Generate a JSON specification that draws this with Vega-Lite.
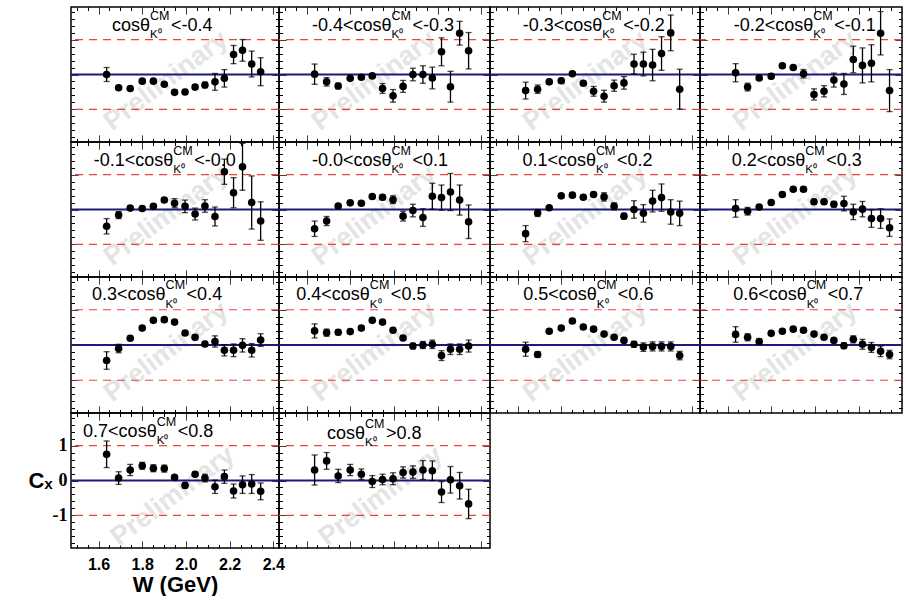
{
"$schema": "https://vega.github.io/schema/vega-lite/v6.json",
"background": "white",
"padding": {"left": 27, "top": 5, "right": 0, "bottom": 0},
"columns": 4,
"spacing": 0,
"bounds": "flush",
"align": "each",
"config": {
 "view": {"stroke": "#000", "strokeWidth": 1.5},
 "font": "Liberation Sans",
 "text": {"font": "Liberation Sans", "baseline": "alphabetic", "color": "#000"},
 "axis": {"domain": false, "grid": false, "labels": false, "ticks": true, "tickColor": "#000", "tickWidth": 1, "tickSize": 7, "offset": -7, "tickCount": 20, "labelOverlap": false, "labelFlush": false, "labelFont": "Liberation Sans", "labelFontWeight": "bold", "labelColor": "#000", "titleFont": "Liberation Sans", "titleFontWeight": "bold", "titleColor": "#000"}
},
"datasets": {
 "p1": [{"W":1.637,"C":0.00,"e":0.20},{"W":1.692,"C":-0.38,"e":0.05},{"W":1.745,"C":-0.40,"e":0.05},{"W":1.800,"C":-0.19,"e":0.05},{"W":1.851,"C":-0.19,"e":0.05},{"W":1.901,"C":-0.28,"e":0.05},{"W":1.948,"C":-0.51,"e":0.06},{"W":1.996,"C":-0.50,"e":0.07},{"W":2.042,"C":-0.36,"e":0.07},{"W":2.087,"C":-0.30,"e":0.08},{"W":2.133,"C":-0.21,"e":0.24},{"W":2.176,"C":-0.11,"e":0.25},{"W":2.218,"C":0.57,"e":0.26},{"W":2.259,"C":0.69,"e":0.31},{"W":2.301,"C":0.30,"e":0.37},{"W":2.342,"C":0.08,"e":0.40}],
 "p2": [{"W":1.637,"C":0.01,"e":0.29},{"W":1.692,"C":-0.21,"e":0.12},{"W":1.745,"C":-0.33,"e":0.08},{"W":1.800,"C":-0.11,"e":0.05},{"W":1.851,"C":-0.08,"e":0.05},{"W":1.901,"C":-0.04,"e":0.05},{"W":1.948,"C":-0.40,"e":0.14},{"W":1.996,"C":-0.61,"e":0.18},{"W":2.042,"C":-0.34,"e":0.17},{"W":2.087,"C":0.00,"e":0.18},{"W":2.133,"C":0.00,"e":0.25},{"W":2.176,"C":-0.10,"e":0.31},{"W":2.218,"C":0.65,"e":0.40},{"W":2.259,"C":-0.35,"e":0.44},{"W":2.301,"C":1.18,"e":0.34},{"W":2.342,"C":0.68,"e":0.52}],
 "p3": [{"W":1.637,"C":-0.46,"e":0.24},{"W":1.692,"C":-0.42,"e":0.12},{"W":1.745,"C":-0.21,"e":0.07},{"W":1.800,"C":-0.18,"e":0.07},{"W":1.851,"C":0.02,"e":0.05},{"W":1.901,"C":-0.25,"e":0.06},{"W":1.948,"C":-0.48,"e":0.14},{"W":1.996,"C":-0.62,"e":0.17},{"W":2.042,"C":-0.32,"e":0.16},{"W":2.087,"C":-0.24,"e":0.18},{"W":2.133,"C":0.30,"e":0.28},{"W":2.176,"C":0.30,"e":0.34},{"W":2.218,"C":0.27,"e":0.45},{"W":2.259,"C":0.60,"e":0.48},{"W":2.301,"C":1.19,"e":0.51},{"W":2.342,"C":-0.42,"e":0.57}],
 "p4": [{"W":1.637,"C":0.05,"e":0.26},{"W":1.692,"C":-0.36,"e":0.11},{"W":1.745,"C":-0.10,"e":0.07},{"W":1.800,"C":-0.05,"e":0.07},{"W":1.851,"C":0.25,"e":0.06},{"W":1.901,"C":0.20,"e":0.06},{"W":1.948,"C":0.02,"e":0.12},{"W":1.996,"C":-0.57,"e":0.16},{"W":2.042,"C":-0.48,"e":0.16},{"W":2.087,"C":-0.16,"e":0.20},{"W":2.133,"C":-0.27,"e":0.30},{"W":2.176,"C":0.43,"e":0.38},{"W":2.218,"C":0.26,"e":0.50},{"W":2.259,"C":0.32,"e":0.53},{"W":2.301,"C":1.18,"e":0.62},{"W":2.342,"C":-0.46,"e":0.60}],
 "p5": [{"W":1.637,"C":-0.48,"e":0.22},{"W":1.692,"C":-0.16,"e":0.10},{"W":1.745,"C":0.04,"e":0.06},{"W":1.800,"C":0.03,"e":0.06},{"W":1.851,"C":0.09,"e":0.06},{"W":1.901,"C":0.27,"e":0.06},{"W":1.948,"C":0.18,"e":0.13},{"W":1.996,"C":0.09,"e":0.18},{"W":2.042,"C":-0.13,"e":0.17},{"W":2.087,"C":0.10,"e":0.18},{"W":2.133,"C":-0.20,"e":0.27},{"W":2.176,"C":1.08,"e":0.36},{"W":2.218,"C":0.48,"e":0.43},{"W":2.259,"C":1.22,"e":0.67},{"W":2.301,"C":0.20,"e":0.76},{"W":2.342,"C":-0.33,"e":0.55}],
 "p6": [{"W":1.637,"C":-0.55,"e":0.22},{"W":1.692,"C":-0.33,"e":0.13},{"W":1.745,"C":0.10,"e":0.06},{"W":1.800,"C":0.19,"e":0.06},{"W":1.851,"C":0.18,"e":0.06},{"W":1.901,"C":0.37,"e":0.06},{"W":1.948,"C":0.35,"e":0.07},{"W":1.996,"C":0.28,"e":0.11},{"W":2.042,"C":-0.19,"e":0.14},{"W":2.087,"C":-0.03,"e":0.18},{"W":2.133,"C":-0.23,"e":0.25},{"W":2.176,"C":0.38,"e":0.37},{"W":2.218,"C":0.34,"e":0.36},{"W":2.259,"C":0.50,"e":0.53},{"W":2.301,"C":0.27,"e":0.43},{"W":2.342,"C":-0.35,"e":0.48}],
 "p7": [{"W":1.637,"C":-0.69,"e":0.23},{"W":1.692,"C":-0.10,"e":0.10},{"W":1.745,"C":0.05,"e":0.06},{"W":1.800,"C":0.39,"e":0.06},{"W":1.851,"C":0.41,"e":0.06},{"W":1.901,"C":0.35,"e":0.06},{"W":1.948,"C":0.43,"e":0.06},{"W":1.996,"C":0.36,"e":0.12},{"W":2.042,"C":0.09,"e":0.10},{"W":2.087,"C":-0.19,"e":0.08},{"W":2.133,"C":0.00,"e":0.25},{"W":2.176,"C":-0.11,"e":0.25},{"W":2.218,"C":0.24,"e":0.31},{"W":2.259,"C":0.34,"e":0.39},{"W":2.301,"C":-0.07,"e":0.35},{"W":2.342,"C":-0.11,"e":0.35}],
 "p8": [{"W":1.637,"C":0.03,"e":0.25},{"W":1.692,"C":-0.05,"e":0.11},{"W":1.745,"C":0.07,"e":0.06},{"W":1.800,"C":0.20,"e":0.06},{"W":1.851,"C":0.43,"e":0.06},{"W":1.901,"C":0.58,"e":0.06},{"W":1.948,"C":0.58,"e":0.06},{"W":1.996,"C":0.22,"e":0.07},{"W":2.042,"C":0.22,"e":0.07},{"W":2.087,"C":0.15,"e":0.08},{"W":2.133,"C":0.17,"e":0.21},{"W":2.176,"C":-0.07,"e":0.22},{"W":2.218,"C":0.01,"e":0.22},{"W":2.259,"C":-0.26,"e":0.25},{"W":2.301,"C":-0.26,"e":0.28},{"W":2.342,"C":-0.52,"e":0.25}],
 "p9": [{"W":1.637,"C":-0.44,"e":0.25},{"W":1.692,"C":-0.10,"e":0.12},{"W":1.745,"C":0.19,"e":0.06},{"W":1.800,"C":0.48,"e":0.06},{"W":1.851,"C":0.70,"e":0.06},{"W":1.901,"C":0.72,"e":0.06},{"W":1.948,"C":0.65,"e":0.06},{"W":1.996,"C":0.34,"e":0.06},{"W":2.042,"C":0.22,"e":0.07},{"W":2.087,"C":0.03,"e":0.07},{"W":2.133,"C":0.10,"e":0.16},{"W":2.176,"C":-0.15,"e":0.16},{"W":2.218,"C":-0.15,"e":0.18},{"W":2.259,"C":-0.01,"e":0.19},{"W":2.301,"C":-0.15,"e":0.19},{"W":2.342,"C":0.14,"e":0.18}],
 "p10": [{"W":1.637,"C":0.40,"e":0.20},{"W":1.692,"C":0.35,"e":0.10},{"W":1.745,"C":0.36,"e":0.07},{"W":1.800,"C":0.38,"e":0.06},{"W":1.851,"C":0.48,"e":0.06},{"W":1.901,"C":0.70,"e":0.06},{"W":1.948,"C":0.65,"e":0.06},{"W":1.996,"C":0.42,"e":0.06},{"W":2.042,"C":0.20,"e":0.07},{"W":2.087,"C":-0.03,"e":0.08},{"W":2.133,"C":0.00,"e":0.10},{"W":2.176,"C":0.02,"e":0.12},{"W":2.218,"C":-0.30,"e":0.14},{"W":2.259,"C":-0.12,"e":0.15},{"W":2.301,"C":-0.12,"e":0.15},{"W":2.342,"C":-0.03,"e":0.17}],
 "p11": [{"W":1.637,"C":-0.12,"e":0.20},{"W":1.692,"C":-0.27,"e":0.08},{"W":1.745,"C":0.39,"e":0.06},{"W":1.800,"C":0.48,"e":0.06},{"W":1.851,"C":0.68,"e":0.06},{"W":1.901,"C":0.51,"e":0.06},{"W":1.948,"C":0.45,"e":0.06},{"W":1.996,"C":0.31,"e":0.06},{"W":2.042,"C":0.22,"e":0.06},{"W":2.087,"C":0.13,"e":0.06},{"W":2.133,"C":0.02,"e":0.08},{"W":2.176,"C":-0.06,"e":0.12},{"W":2.218,"C":-0.04,"e":0.13},{"W":2.259,"C":-0.04,"e":0.13},{"W":2.301,"C":-0.04,"e":0.13},{"W":2.342,"C":-0.30,"e":0.12}],
 "p12": [{"W":1.637,"C":0.30,"e":0.22},{"W":1.692,"C":0.22,"e":0.10},{"W":1.745,"C":0.10,"e":0.07},{"W":1.800,"C":0.33,"e":0.06},{"W":1.851,"C":0.39,"e":0.06},{"W":1.901,"C":0.45,"e":0.06},{"W":1.948,"C":0.42,"e":0.06},{"W":1.996,"C":0.31,"e":0.06},{"W":2.042,"C":0.22,"e":0.06},{"W":2.087,"C":0.13,"e":0.06},{"W":2.133,"C":-0.02,"e":0.08},{"W":2.176,"C":0.16,"e":0.10},{"W":2.218,"C":0.02,"e":0.14},{"W":2.259,"C":-0.07,"e":0.14},{"W":2.301,"C":-0.18,"e":0.15},{"W":2.342,"C":-0.27,"e":0.12}],
 "p13": [{"W":1.637,"C":0.75,"e":0.38},{"W":1.692,"C":0.07,"e":0.18},{"W":1.745,"C":0.30,"e":0.16},{"W":1.800,"C":0.42,"e":0.10},{"W":1.851,"C":0.35,"e":0.10},{"W":1.901,"C":0.34,"e":0.10},{"W":1.948,"C":0.09,"e":0.06},{"W":1.996,"C":-0.14,"e":0.07},{"W":2.042,"C":0.18,"e":0.06},{"W":2.087,"C":0.07,"e":0.11},{"W":2.133,"C":-0.18,"e":0.19},{"W":2.176,"C":0.11,"e":0.19},{"W":2.218,"C":-0.30,"e":0.20},{"W":2.259,"C":-0.12,"e":0.25},{"W":2.301,"C":-0.10,"e":0.27},{"W":2.342,"C":-0.31,"e":0.24}],
 "p14": [{"W":1.637,"C":0.30,"e":0.43},{"W":1.692,"C":0.56,"e":0.24},{"W":1.745,"C":0.13,"e":0.19},{"W":1.800,"C":0.30,"e":0.16},{"W":1.851,"C":0.18,"e":0.15},{"W":1.901,"C":-0.03,"e":0.17},{"W":1.948,"C":0.03,"e":0.15},{"W":1.996,"C":0.05,"e":0.17},{"W":2.042,"C":0.23,"e":0.16},{"W":2.087,"C":0.24,"e":0.18},{"W":2.133,"C":0.30,"e":0.27},{"W":2.176,"C":0.28,"e":0.28},{"W":2.218,"C":-0.33,"e":0.30},{"W":2.259,"C":0.02,"e":0.38},{"W":2.301,"C":-0.15,"e":0.38},{"W":2.342,"C":-0.67,"e":0.42}]
},
"concat": [
{"width": 208, "height": 135, "data": {"name": "p1"}, "resolve": {"axis": {"x": "independent", "y": "independent"}}, "layer": [
 {"data": {"values": [{"t": "Preliminary"}]}, "mark": {"type": "text", "angle": -37, "fontSize": 27, "fontWeight": "bold", "color": "#e4e4e4", "align": "center", "baseline": "middle"}, "encoding": {"x": {"datum": 1.91, "axis": null}, "y": {"datum": -0.18, "axis": null}, "text": {"field": "t"}}},
 {"data": {"values": [{"v": 1}, {"v": -1}]}, "mark": {"type": "rule", "color": "#e8463c", "strokeDash": [8, 6], "strokeWidth": 1.2}, "encoding": {"y": {"field": "v", "type": "quantitative", "axis": null}}},
 {"data": {"values": [{"v": 0}]}, "mark": {"type": "rule", "color": "#1b1b78", "strokeWidth": 2}, "encoding": {"y": {"field": "v", "type": "quantitative", "axis": null}}},
 {"data": {"values": [{"pre": "cosθ", "sup": "CM", "sub": "K⁰", "post": "<-0.4"}]}, "encoding": {"x": {"datum": 1.836, "axis": null}, "y": {"datum": 1.25, "axis": null}}, "layer": [
  {"mark": {"type": "text", "align": "right", "fontSize": 18}, "encoding": {"text": {"field": "pre"}}},
  {"mark": {"type": "text", "align": "left", "fontSize": 12.5, "dy": -11}, "encoding": {"text": {"field": "sup"}}},
  {"mark": {"type": "text", "align": "left", "fontSize": 11.5, "dy": 7.5}, "encoding": {"text": {"field": "sub"}}},
  {"mark": {"type": "text", "align": "left", "fontSize": 18, "dx": 21}, "encoding": {"text": {"field": "post"}}}]},
 {"mark": {"type": "errorbar", "ticks": true, "size": 6, "thickness": 1.3, "color": "#000"}, "encoding": {"x": {"field": "W", "type": "quantitative", "axis": null}, "y": {"field": "C", "type": "quantitative", "axis": null}, "yError": {"field": "e"}}},
 {"mark": {"type": "circle", "size": 58, "color": "#000", "opacity": 1}, "encoding": {"x": {"field": "W", "type": "quantitative", "scale": {"domain": [1.474, 2.426], "nice": false, "zero": false}, "axis": {"orient": "bottom", "tickDash": {"condition": {"test": "abs(datum.value*5-round(datum.value*5))>0.01", "value": [0, 3.5, 3.5, 10]}, "value": [1, 0]}}, "title": null}, "y": {"field": "C", "type": "quantitative", "scale": {"domain": [-1.93, 1.93], "nice": false, "zero": false}, "axis": {"orient": "left", "tickDash": {"condition": {"test": "abs(datum.value-round(datum.value))>0.01", "value": [0, 3.5, 3.5, 10]}, "value": [1, 0]}}, "title": null}}},
 {"mark": {"type": "point", "opacity": 0}, "encoding": {"x": {"field": "W", "type": "quantitative", "axis": {"orient": "top", "tickDash": {"condition": {"test": "abs(datum.value*5-round(datum.value*5))>0.01", "value": [0, 3.5, 3.5, 10]}, "value": [1, 0]}}, "title": null}, "y": {"field": "C", "type": "quantitative", "axis": {"orient": "right", "tickDash": {"condition": {"test": "abs(datum.value-round(datum.value))>0.01", "value": [0, 3.5, 3.5, 10]}, "value": [1, 0]}}, "title": null}}}]},
{"width": 211, "height": 135, "data": {"name": "p2"}, "resolve": {"axis": {"x": "independent", "y": "independent"}}, "layer": [
 {"data": {"values": [{"t": "Preliminary"}]}, "mark": {"type": "text", "angle": -37, "fontSize": 27, "fontWeight": "bold", "color": "#e4e4e4", "align": "center", "baseline": "middle"}, "encoding": {"x": {"datum": 1.91, "axis": null}, "y": {"datum": -0.18, "axis": null}, "text": {"field": "t"}}},
 {"data": {"values": [{"v": 1}, {"v": -1}]}, "mark": {"type": "rule", "color": "#e8463c", "strokeDash": [8, 6], "strokeWidth": 1.2}, "encoding": {"y": {"field": "v", "type": "quantitative", "axis": null}}},
 {"data": {"values": [{"v": 0}]}, "mark": {"type": "rule", "color": "#1b1b78", "strokeWidth": 2}, "encoding": {"y": {"field": "v", "type": "quantitative", "axis": null}}},
 {"data": {"values": [{"pre": "-0.4<cosθ", "sup": "CM", "sub": "K⁰", "post": "<-0.3"}]}, "encoding": {"x": {"datum": 1.989, "axis": null}, "y": {"datum": 1.25, "axis": null}}, "layer": [
  {"mark": {"type": "text", "align": "right", "fontSize": 18}, "encoding": {"text": {"field": "pre"}}},
  {"mark": {"type": "text", "align": "left", "fontSize": 12.5, "dy": -11}, "encoding": {"text": {"field": "sup"}}},
  {"mark": {"type": "text", "align": "left", "fontSize": 11.5, "dy": 7.5}, "encoding": {"text": {"field": "sub"}}},
  {"mark": {"type": "text", "align": "left", "fontSize": 18, "dx": 21}, "encoding": {"text": {"field": "post"}}}]},
 {"mark": {"type": "errorbar", "ticks": true, "size": 6, "thickness": 1.3, "color": "#000"}, "encoding": {"x": {"field": "W", "type": "quantitative", "axis": null}, "y": {"field": "C", "type": "quantitative", "axis": null}, "yError": {"field": "e"}}},
 {"mark": {"type": "circle", "size": 58, "color": "#000", "opacity": 1}, "encoding": {"x": {"field": "W", "type": "quantitative", "scale": {"domain": [1.474, 2.44], "nice": false, "zero": false}, "axis": {"orient": "bottom", "tickDash": {"condition": {"test": "abs(datum.value*5-round(datum.value*5))>0.01", "value": [0, 3.5, 3.5, 10]}, "value": [1, 0]}}, "title": null}, "y": {"field": "C", "type": "quantitative", "scale": {"domain": [-1.93, 1.93], "nice": false, "zero": false}, "axis": {"orient": "left", "tickDash": {"condition": {"test": "abs(datum.value-round(datum.value))>0.01", "value": [0, 3.5, 3.5, 10]}, "value": [1, 0]}}, "title": null}}},
 {"mark": {"type": "point", "opacity": 0}, "encoding": {"x": {"field": "W", "type": "quantitative", "axis": {"orient": "top", "tickDash": {"condition": {"test": "abs(datum.value*5-round(datum.value*5))>0.01", "value": [0, 3.5, 3.5, 10]}, "value": [1, 0]}}, "title": null}, "y": {"field": "C", "type": "quantitative", "axis": {"orient": "right", "tickDash": {"condition": {"test": "abs(datum.value-round(datum.value))>0.01", "value": [0, 3.5, 3.5, 10]}, "value": [1, 0]}}, "title": null}}}]},
{"width": 210, "height": 135, "data": {"name": "p3"}, "resolve": {"axis": {"x": "independent", "y": "independent"}}, "layer": [
 {"data": {"values": [{"t": "Preliminary"}]}, "mark": {"type": "text", "angle": -37, "fontSize": 27, "fontWeight": "bold", "color": "#e4e4e4", "align": "center", "baseline": "middle"}, "encoding": {"x": {"datum": 1.91, "axis": null}, "y": {"datum": -0.18, "axis": null}, "text": {"field": "t"}}},
 {"data": {"values": [{"v": 1}, {"v": -1}]}, "mark": {"type": "rule", "color": "#e8463c", "strokeDash": [8, 6], "strokeWidth": 1.2}, "encoding": {"y": {"field": "v", "type": "quantitative", "axis": null}}},
 {"data": {"values": [{"v": 0}]}, "mark": {"type": "rule", "color": "#1b1b78", "strokeWidth": 2}, "encoding": {"y": {"field": "v", "type": "quantitative", "axis": null}}},
 {"data": {"values": [{"pre": "-0.3<cosθ", "sup": "CM", "sub": "K⁰", "post": "<-0.2"}]}, "encoding": {"x": {"datum": 1.988, "axis": null}, "y": {"datum": 1.25, "axis": null}}, "layer": [
  {"mark": {"type": "text", "align": "right", "fontSize": 18}, "encoding": {"text": {"field": "pre"}}},
  {"mark": {"type": "text", "align": "left", "fontSize": 12.5, "dy": -11}, "encoding": {"text": {"field": "sup"}}},
  {"mark": {"type": "text", "align": "left", "fontSize": 11.5, "dy": 7.5}, "encoding": {"text": {"field": "sub"}}},
  {"mark": {"type": "text", "align": "left", "fontSize": 18, "dx": 21}, "encoding": {"text": {"field": "post"}}}]},
 {"mark": {"type": "errorbar", "ticks": true, "size": 6, "thickness": 1.3, "color": "#000"}, "encoding": {"x": {"field": "W", "type": "quantitative", "axis": null}, "y": {"field": "C", "type": "quantitative", "axis": null}, "yError": {"field": "e"}}},
 {"mark": {"type": "circle", "size": 58, "color": "#000", "opacity": 1}, "encoding": {"x": {"field": "W", "type": "quantitative", "scale": {"domain": [1.474, 2.435], "nice": false, "zero": false}, "axis": {"orient": "bottom", "tickDash": {"condition": {"test": "abs(datum.value*5-round(datum.value*5))>0.01", "value": [0, 3.5, 3.5, 10]}, "value": [1, 0]}}, "title": null}, "y": {"field": "C", "type": "quantitative", "scale": {"domain": [-1.93, 1.93], "nice": false, "zero": false}, "axis": {"orient": "left", "tickDash": {"condition": {"test": "abs(datum.value-round(datum.value))>0.01", "value": [0, 3.5, 3.5, 10]}, "value": [1, 0]}}, "title": null}}},
 {"mark": {"type": "point", "opacity": 0}, "encoding": {"x": {"field": "W", "type": "quantitative", "axis": {"orient": "top", "tickDash": {"condition": {"test": "abs(datum.value*5-round(datum.value*5))>0.01", "value": [0, 3.5, 3.5, 10]}, "value": [1, 0]}}, "title": null}, "y": {"field": "C", "type": "quantitative", "axis": {"orient": "right", "tickDash": {"condition": {"test": "abs(datum.value-round(datum.value))>0.01", "value": [0, 3.5, 3.5, 10]}, "value": [1, 0]}}, "title": null}}}]},
{"width": 202, "height": 135, "data": {"name": "p4"}, "resolve": {"axis": {"x": "independent", "y": "independent"}}, "layer": [
 {"data": {"values": [{"t": "Preliminary"}]}, "mark": {"type": "text", "angle": -37, "fontSize": 27, "fontWeight": "bold", "color": "#e4e4e4", "align": "center", "baseline": "middle"}, "encoding": {"x": {"datum": 1.91, "axis": null}, "y": {"datum": -0.18, "axis": null}, "text": {"field": "t"}}},
 {"data": {"values": [{"v": 1}, {"v": -1}]}, "mark": {"type": "rule", "color": "#e8463c", "strokeDash": [8, 6], "strokeWidth": 1.2}, "encoding": {"y": {"field": "v", "type": "quantitative", "axis": null}}},
 {"data": {"values": [{"v": 0}]}, "mark": {"type": "rule", "color": "#1b1b78", "strokeWidth": 2}, "encoding": {"y": {"field": "v", "type": "quantitative", "axis": null}}},
 {"data": {"values": [{"pre": "-0.2<cosθ", "sup": "CM", "sub": "K⁰", "post": "<-0.1"}]}, "encoding": {"x": {"datum": 1.993, "axis": null}, "y": {"datum": 1.25, "axis": null}}, "layer": [
  {"mark": {"type": "text", "align": "right", "fontSize": 18}, "encoding": {"text": {"field": "pre"}}},
  {"mark": {"type": "text", "align": "left", "fontSize": 12.5, "dy": -11}, "encoding": {"text": {"field": "sup"}}},
  {"mark": {"type": "text", "align": "left", "fontSize": 11.5, "dy": 7.5}, "encoding": {"text": {"field": "sub"}}},
  {"mark": {"type": "text", "align": "left", "fontSize": 18, "dx": 21}, "encoding": {"text": {"field": "post"}}}]},
 {"mark": {"type": "errorbar", "ticks": true, "size": 6, "thickness": 1.3, "color": "#000"}, "encoding": {"x": {"field": "W", "type": "quantitative", "axis": null}, "y": {"field": "C", "type": "quantitative", "axis": null}, "yError": {"field": "e"}}},
 {"mark": {"type": "circle", "size": 58, "color": "#000", "opacity": 1}, "encoding": {"x": {"field": "W", "type": "quantitative", "scale": {"domain": [1.474, 2.399], "nice": false, "zero": false}, "axis": {"orient": "bottom", "tickDash": {"condition": {"test": "abs(datum.value*5-round(datum.value*5))>0.01", "value": [0, 3.5, 3.5, 10]}, "value": [1, 0]}}, "title": null}, "y": {"field": "C", "type": "quantitative", "scale": {"domain": [-1.93, 1.93], "nice": false, "zero": false}, "axis": {"orient": "left", "tickDash": {"condition": {"test": "abs(datum.value-round(datum.value))>0.01", "value": [0, 3.5, 3.5, 10]}, "value": [1, 0]}}, "title": null}}},
 {"mark": {"type": "point", "opacity": 0}, "encoding": {"x": {"field": "W", "type": "quantitative", "axis": {"orient": "top", "tickDash": {"condition": {"test": "abs(datum.value*5-round(datum.value*5))>0.01", "value": [0, 3.5, 3.5, 10]}, "value": [1, 0]}}, "title": null}, "y": {"field": "C", "type": "quantitative", "axis": {"orient": "right", "tickDash": {"condition": {"test": "abs(datum.value-round(datum.value))>0.01", "value": [0, 3.5, 3.5, 10]}, "value": [1, 0]}}, "title": null}}}]},
{"width": 208, "height": 135, "data": {"name": "p5"}, "resolve": {"axis": {"x": "independent", "y": "independent"}}, "layer": [
 {"data": {"values": [{"t": "Preliminary"}]}, "mark": {"type": "text", "angle": -37, "fontSize": 27, "fontWeight": "bold", "color": "#e4e4e4", "align": "center", "baseline": "middle"}, "encoding": {"x": {"datum": 1.91, "axis": null}, "y": {"datum": -0.18, "axis": null}, "text": {"field": "t"}}},
 {"data": {"values": [{"v": 1}, {"v": -1}]}, "mark": {"type": "rule", "color": "#e8463c", "strokeDash": [8, 6], "strokeWidth": 1.2}, "encoding": {"y": {"field": "v", "type": "quantitative", "axis": null}}},
 {"data": {"values": [{"v": 0}]}, "mark": {"type": "rule", "color": "#1b1b78", "strokeWidth": 2}, "encoding": {"y": {"field": "v", "type": "quantitative", "axis": null}}},
 {"data": {"values": [{"pre": "-0.1<cosθ", "sup": "CM", "sub": "K⁰", "post": "<-0.0"}]}, "encoding": {"x": {"datum": 1.942, "axis": null}, "y": {"datum": 1.25, "axis": null}}, "layer": [
  {"mark": {"type": "text", "align": "right", "fontSize": 18}, "encoding": {"text": {"field": "pre"}}},
  {"mark": {"type": "text", "align": "left", "fontSize": 12.5, "dy": -11}, "encoding": {"text": {"field": "sup"}}},
  {"mark": {"type": "text", "align": "left", "fontSize": 11.5, "dy": 7.5}, "encoding": {"text": {"field": "sub"}}},
  {"mark": {"type": "text", "align": "left", "fontSize": 18, "dx": 21}, "encoding": {"text": {"field": "post"}}}]},
 {"mark": {"type": "errorbar", "ticks": true, "size": 6, "thickness": 1.3, "color": "#000"}, "encoding": {"x": {"field": "W", "type": "quantitative", "axis": null}, "y": {"field": "C", "type": "quantitative", "axis": null}, "yError": {"field": "e"}}},
 {"mark": {"type": "circle", "size": 58, "color": "#000", "opacity": 1}, "encoding": {"x": {"field": "W", "type": "quantitative", "scale": {"domain": [1.474, 2.426], "nice": false, "zero": false}, "axis": {"orient": "bottom", "tickDash": {"condition": {"test": "abs(datum.value*5-round(datum.value*5))>0.01", "value": [0, 3.5, 3.5, 10]}, "value": [1, 0]}}, "title": null}, "y": {"field": "C", "type": "quantitative", "scale": {"domain": [-1.93, 1.93], "nice": false, "zero": false}, "axis": {"orient": "left", "tickDash": {"condition": {"test": "abs(datum.value-round(datum.value))>0.01", "value": [0, 3.5, 3.5, 10]}, "value": [1, 0]}}, "title": null}}},
 {"mark": {"type": "point", "opacity": 0}, "encoding": {"x": {"field": "W", "type": "quantitative", "axis": {"orient": "top", "tickDash": {"condition": {"test": "abs(datum.value*5-round(datum.value*5))>0.01", "value": [0, 3.5, 3.5, 10]}, "value": [1, 0]}}, "title": null}, "y": {"field": "C", "type": "quantitative", "axis": {"orient": "right", "tickDash": {"condition": {"test": "abs(datum.value-round(datum.value))>0.01", "value": [0, 3.5, 3.5, 10]}, "value": [1, 0]}}, "title": null}}}]},
{"width": 211, "height": 135, "data": {"name": "p6"}, "resolve": {"axis": {"x": "independent", "y": "independent"}}, "layer": [
 {"data": {"values": [{"t": "Preliminary"}]}, "mark": {"type": "text", "angle": -37, "fontSize": 27, "fontWeight": "bold", "color": "#e4e4e4", "align": "center", "baseline": "middle"}, "encoding": {"x": {"datum": 1.91, "axis": null}, "y": {"datum": -0.18, "axis": null}, "text": {"field": "t"}}},
 {"data": {"values": [{"v": 1}, {"v": -1}]}, "mark": {"type": "rule", "color": "#e8463c", "strokeDash": [8, 6], "strokeWidth": 1.2}, "encoding": {"y": {"field": "v", "type": "quantitative", "axis": null}}},
 {"data": {"values": [{"v": 0}]}, "mark": {"type": "rule", "color": "#1b1b78", "strokeWidth": 2}, "encoding": {"y": {"field": "v", "type": "quantitative", "axis": null}}},
 {"data": {"values": [{"pre": "-0.0<cosθ", "sup": "CM", "sub": "K⁰", "post": "<0.1"}]}, "encoding": {"x": {"datum": 1.989, "axis": null}, "y": {"datum": 1.25, "axis": null}}, "layer": [
  {"mark": {"type": "text", "align": "right", "fontSize": 18}, "encoding": {"text": {"field": "pre"}}},
  {"mark": {"type": "text", "align": "left", "fontSize": 12.5, "dy": -11}, "encoding": {"text": {"field": "sup"}}},
  {"mark": {"type": "text", "align": "left", "fontSize": 11.5, "dy": 7.5}, "encoding": {"text": {"field": "sub"}}},
  {"mark": {"type": "text", "align": "left", "fontSize": 18, "dx": 21}, "encoding": {"text": {"field": "post"}}}]},
 {"mark": {"type": "errorbar", "ticks": true, "size": 6, "thickness": 1.3, "color": "#000"}, "encoding": {"x": {"field": "W", "type": "quantitative", "axis": null}, "y": {"field": "C", "type": "quantitative", "axis": null}, "yError": {"field": "e"}}},
 {"mark": {"type": "circle", "size": 58, "color": "#000", "opacity": 1}, "encoding": {"x": {"field": "W", "type": "quantitative", "scale": {"domain": [1.474, 2.44], "nice": false, "zero": false}, "axis": {"orient": "bottom", "tickDash": {"condition": {"test": "abs(datum.value*5-round(datum.value*5))>0.01", "value": [0, 3.5, 3.5, 10]}, "value": [1, 0]}}, "title": null}, "y": {"field": "C", "type": "quantitative", "scale": {"domain": [-1.93, 1.93], "nice": false, "zero": false}, "axis": {"orient": "left", "tickDash": {"condition": {"test": "abs(datum.value-round(datum.value))>0.01", "value": [0, 3.5, 3.5, 10]}, "value": [1, 0]}}, "title": null}}},
 {"mark": {"type": "point", "opacity": 0}, "encoding": {"x": {"field": "W", "type": "quantitative", "axis": {"orient": "top", "tickDash": {"condition": {"test": "abs(datum.value*5-round(datum.value*5))>0.01", "value": [0, 3.5, 3.5, 10]}, "value": [1, 0]}}, "title": null}, "y": {"field": "C", "type": "quantitative", "axis": {"orient": "right", "tickDash": {"condition": {"test": "abs(datum.value-round(datum.value))>0.01", "value": [0, 3.5, 3.5, 10]}, "value": [1, 0]}}, "title": null}}}]},
{"width": 210, "height": 135, "data": {"name": "p7"}, "resolve": {"axis": {"x": "independent", "y": "independent"}}, "layer": [
 {"data": {"values": [{"t": "Preliminary"}]}, "mark": {"type": "text", "angle": -37, "fontSize": 27, "fontWeight": "bold", "color": "#e4e4e4", "align": "center", "baseline": "middle"}, "encoding": {"x": {"datum": 1.91, "axis": null}, "y": {"datum": -0.18, "axis": null}, "text": {"field": "t"}}},
 {"data": {"values": [{"v": 1}, {"v": -1}]}, "mark": {"type": "rule", "color": "#e8463c", "strokeDash": [8, 6], "strokeWidth": 1.2}, "encoding": {"y": {"field": "v", "type": "quantitative", "axis": null}}},
 {"data": {"values": [{"v": 0}]}, "mark": {"type": "rule", "color": "#1b1b78", "strokeWidth": 2}, "encoding": {"y": {"field": "v", "type": "quantitative", "axis": null}}},
 {"data": {"values": [{"pre": "0.1<cosθ", "sup": "CM", "sub": "K⁰", "post": "<0.2"}]}, "encoding": {"x": {"datum": 1.959, "axis": null}, "y": {"datum": 1.25, "axis": null}}, "layer": [
  {"mark": {"type": "text", "align": "right", "fontSize": 18}, "encoding": {"text": {"field": "pre"}}},
  {"mark": {"type": "text", "align": "left", "fontSize": 12.5, "dy": -11}, "encoding": {"text": {"field": "sup"}}},
  {"mark": {"type": "text", "align": "left", "fontSize": 11.5, "dy": 7.5}, "encoding": {"text": {"field": "sub"}}},
  {"mark": {"type": "text", "align": "left", "fontSize": 18, "dx": 21}, "encoding": {"text": {"field": "post"}}}]},
 {"mark": {"type": "errorbar", "ticks": true, "size": 6, "thickness": 1.3, "color": "#000"}, "encoding": {"x": {"field": "W", "type": "quantitative", "axis": null}, "y": {"field": "C", "type": "quantitative", "axis": null}, "yError": {"field": "e"}}},
 {"mark": {"type": "circle", "size": 58, "color": "#000", "opacity": 1}, "encoding": {"x": {"field": "W", "type": "quantitative", "scale": {"domain": [1.474, 2.435], "nice": false, "zero": false}, "axis": {"orient": "bottom", "tickDash": {"condition": {"test": "abs(datum.value*5-round(datum.value*5))>0.01", "value": [0, 3.5, 3.5, 10]}, "value": [1, 0]}}, "title": null}, "y": {"field": "C", "type": "quantitative", "scale": {"domain": [-1.93, 1.93], "nice": false, "zero": false}, "axis": {"orient": "left", "tickDash": {"condition": {"test": "abs(datum.value-round(datum.value))>0.01", "value": [0, 3.5, 3.5, 10]}, "value": [1, 0]}}, "title": null}}},
 {"mark": {"type": "point", "opacity": 0}, "encoding": {"x": {"field": "W", "type": "quantitative", "axis": {"orient": "top", "tickDash": {"condition": {"test": "abs(datum.value*5-round(datum.value*5))>0.01", "value": [0, 3.5, 3.5, 10]}, "value": [1, 0]}}, "title": null}, "y": {"field": "C", "type": "quantitative", "axis": {"orient": "right", "tickDash": {"condition": {"test": "abs(datum.value-round(datum.value))>0.01", "value": [0, 3.5, 3.5, 10]}, "value": [1, 0]}}, "title": null}}}]},
{"width": 202, "height": 135, "data": {"name": "p8"}, "resolve": {"axis": {"x": "independent", "y": "independent"}}, "layer": [
 {"data": {"values": [{"t": "Preliminary"}]}, "mark": {"type": "text", "angle": -37, "fontSize": 27, "fontWeight": "bold", "color": "#e4e4e4", "align": "center", "baseline": "middle"}, "encoding": {"x": {"datum": 1.91, "axis": null}, "y": {"datum": -0.18, "axis": null}, "text": {"field": "t"}}},
 {"data": {"values": [{"v": 1}, {"v": -1}]}, "mark": {"type": "rule", "color": "#e8463c", "strokeDash": [8, 6], "strokeWidth": 1.2}, "encoding": {"y": {"field": "v", "type": "quantitative", "axis": null}}},
 {"data": {"values": [{"v": 0}]}, "mark": {"type": "rule", "color": "#1b1b78", "strokeWidth": 2}, "encoding": {"y": {"field": "v", "type": "quantitative", "axis": null}}},
 {"data": {"values": [{"pre": "0.2<cosθ", "sup": "CM", "sub": "K⁰", "post": "<0.3"}]}, "encoding": {"x": {"datum": 1.956, "axis": null}, "y": {"datum": 1.25, "axis": null}}, "layer": [
  {"mark": {"type": "text", "align": "right", "fontSize": 18}, "encoding": {"text": {"field": "pre"}}},
  {"mark": {"type": "text", "align": "left", "fontSize": 12.5, "dy": -11}, "encoding": {"text": {"field": "sup"}}},
  {"mark": {"type": "text", "align": "left", "fontSize": 11.5, "dy": 7.5}, "encoding": {"text": {"field": "sub"}}},
  {"mark": {"type": "text", "align": "left", "fontSize": 18, "dx": 21}, "encoding": {"text": {"field": "post"}}}]},
 {"mark": {"type": "errorbar", "ticks": true, "size": 6, "thickness": 1.3, "color": "#000"}, "encoding": {"x": {"field": "W", "type": "quantitative", "axis": null}, "y": {"field": "C", "type": "quantitative", "axis": null}, "yError": {"field": "e"}}},
 {"mark": {"type": "circle", "size": 58, "color": "#000", "opacity": 1}, "encoding": {"x": {"field": "W", "type": "quantitative", "scale": {"domain": [1.474, 2.399], "nice": false, "zero": false}, "axis": {"orient": "bottom", "tickDash": {"condition": {"test": "abs(datum.value*5-round(datum.value*5))>0.01", "value": [0, 3.5, 3.5, 10]}, "value": [1, 0]}}, "title": null}, "y": {"field": "C", "type": "quantitative", "scale": {"domain": [-1.93, 1.93], "nice": false, "zero": false}, "axis": {"orient": "left", "tickDash": {"condition": {"test": "abs(datum.value-round(datum.value))>0.01", "value": [0, 3.5, 3.5, 10]}, "value": [1, 0]}}, "title": null}}},
 {"mark": {"type": "point", "opacity": 0}, "encoding": {"x": {"field": "W", "type": "quantitative", "axis": {"orient": "top", "tickDash": {"condition": {"test": "abs(datum.value*5-round(datum.value*5))>0.01", "value": [0, 3.5, 3.5, 10]}, "value": [1, 0]}}, "title": null}, "y": {"field": "C", "type": "quantitative", "axis": {"orient": "right", "tickDash": {"condition": {"test": "abs(datum.value-round(datum.value))>0.01", "value": [0, 3.5, 3.5, 10]}, "value": [1, 0]}}, "title": null}}}]},
{"width": 208, "height": 136, "data": {"name": "p9"}, "resolve": {"axis": {"x": "independent", "y": "independent"}}, "layer": [
 {"data": {"values": [{"t": "Preliminary"}]}, "mark": {"type": "text", "angle": -37, "fontSize": 27, "fontWeight": "bold", "color": "#e4e4e4", "align": "center", "baseline": "middle"}, "encoding": {"x": {"datum": 1.91, "axis": null}, "y": {"datum": -0.2, "axis": null}, "text": {"field": "t"}}},
 {"data": {"values": [{"v": 1}, {"v": -1}]}, "mark": {"type": "rule", "color": "#e8463c", "strokeDash": [8, 6], "strokeWidth": 1.2}, "encoding": {"y": {"field": "v", "type": "quantitative", "axis": null}}},
 {"data": {"values": [{"v": 0}]}, "mark": {"type": "rule", "color": "#1b1b78", "strokeWidth": 2}, "encoding": {"y": {"field": "v", "type": "quantitative", "axis": null}}},
 {"data": {"values": [{"pre": "0.3<cosθ", "sup": "CM", "sub": "K⁰", "post": "<0.4"}]}, "encoding": {"x": {"datum": 1.907, "axis": null}, "y": {"datum": 1.27, "axis": null}}, "layer": [
  {"mark": {"type": "text", "align": "right", "fontSize": 18}, "encoding": {"text": {"field": "pre"}}},
  {"mark": {"type": "text", "align": "left", "fontSize": 12.5, "dy": -11}, "encoding": {"text": {"field": "sup"}}},
  {"mark": {"type": "text", "align": "left", "fontSize": 11.5, "dy": 7.5}, "encoding": {"text": {"field": "sub"}}},
  {"mark": {"type": "text", "align": "left", "fontSize": 18, "dx": 21}, "encoding": {"text": {"field": "post"}}}]},
 {"mark": {"type": "errorbar", "ticks": true, "size": 6, "thickness": 1.3, "color": "#000"}, "encoding": {"x": {"field": "W", "type": "quantitative", "axis": null}, "y": {"field": "C", "type": "quantitative", "axis": null}, "yError": {"field": "e"}}},
 {"mark": {"type": "circle", "size": 58, "color": "#000", "opacity": 1}, "encoding": {"x": {"field": "W", "type": "quantitative", "scale": {"domain": [1.474, 2.426], "nice": false, "zero": false}, "axis": {"orient": "bottom", "tickDash": {"condition": {"test": "abs(datum.value*5-round(datum.value*5))>0.01", "value": [0, 3.5, 3.5, 10]}, "value": [1, 0]}}, "title": null}, "y": {"field": "C", "type": "quantitative", "scale": {"domain": [-1.93, 1.93], "nice": false, "zero": false}, "axis": {"orient": "left", "tickDash": {"condition": {"test": "abs(datum.value-round(datum.value))>0.01", "value": [0, 3.5, 3.5, 10]}, "value": [1, 0]}}, "title": null}}},
 {"mark": {"type": "point", "opacity": 0}, "encoding": {"x": {"field": "W", "type": "quantitative", "axis": {"orient": "top", "tickDash": {"condition": {"test": "abs(datum.value*5-round(datum.value*5))>0.01", "value": [0, 3.5, 3.5, 10]}, "value": [1, 0]}}, "title": null}, "y": {"field": "C", "type": "quantitative", "axis": {"orient": "right", "tickDash": {"condition": {"test": "abs(datum.value-round(datum.value))>0.01", "value": [0, 3.5, 3.5, 10]}, "value": [1, 0]}}, "title": null}}}]},
{"width": 211, "height": 136, "data": {"name": "p10"}, "resolve": {"axis": {"x": "independent", "y": "independent"}}, "layer": [
 {"data": {"values": [{"t": "Preliminary"}]}, "mark": {"type": "text", "angle": -37, "fontSize": 27, "fontWeight": "bold", "color": "#e4e4e4", "align": "center", "baseline": "middle"}, "encoding": {"x": {"datum": 1.91, "axis": null}, "y": {"datum": -0.2, "axis": null}, "text": {"field": "t"}}},
 {"data": {"values": [{"v": 1}, {"v": -1}]}, "mark": {"type": "rule", "color": "#e8463c", "strokeDash": [8, 6], "strokeWidth": 1.2}, "encoding": {"y": {"field": "v", "type": "quantitative", "axis": null}}},
 {"data": {"values": [{"v": 0}]}, "mark": {"type": "rule", "color": "#1b1b78", "strokeWidth": 2}, "encoding": {"y": {"field": "v", "type": "quantitative", "axis": null}}},
 {"data": {"values": [{"pre": "0.4<cosθ", "sup": "CM", "sub": "K⁰", "post": "<0.5"}]}, "encoding": {"x": {"datum": 1.89, "axis": null}, "y": {"datum": 1.27, "axis": null}}, "layer": [
  {"mark": {"type": "text", "align": "right", "fontSize": 18}, "encoding": {"text": {"field": "pre"}}},
  {"mark": {"type": "text", "align": "left", "fontSize": 12.5, "dy": -11}, "encoding": {"text": {"field": "sup"}}},
  {"mark": {"type": "text", "align": "left", "fontSize": 11.5, "dy": 7.5}, "encoding": {"text": {"field": "sub"}}},
  {"mark": {"type": "text", "align": "left", "fontSize": 18, "dx": 21}, "encoding": {"text": {"field": "post"}}}]},
 {"mark": {"type": "errorbar", "ticks": true, "size": 6, "thickness": 1.3, "color": "#000"}, "encoding": {"x": {"field": "W", "type": "quantitative", "axis": null}, "y": {"field": "C", "type": "quantitative", "axis": null}, "yError": {"field": "e"}}},
 {"mark": {"type": "circle", "size": 58, "color": "#000", "opacity": 1}, "encoding": {"x": {"field": "W", "type": "quantitative", "scale": {"domain": [1.474, 2.44], "nice": false, "zero": false}, "axis": {"orient": "bottom", "tickDash": {"condition": {"test": "abs(datum.value*5-round(datum.value*5))>0.01", "value": [0, 3.5, 3.5, 10]}, "value": [1, 0]}}, "title": null}, "y": {"field": "C", "type": "quantitative", "scale": {"domain": [-1.93, 1.93], "nice": false, "zero": false}, "axis": {"orient": "left", "tickDash": {"condition": {"test": "abs(datum.value-round(datum.value))>0.01", "value": [0, 3.5, 3.5, 10]}, "value": [1, 0]}}, "title": null}}},
 {"mark": {"type": "point", "opacity": 0}, "encoding": {"x": {"field": "W", "type": "quantitative", "axis": {"orient": "top", "tickDash": {"condition": {"test": "abs(datum.value*5-round(datum.value*5))>0.01", "value": [0, 3.5, 3.5, 10]}, "value": [1, 0]}}, "title": null}, "y": {"field": "C", "type": "quantitative", "axis": {"orient": "right", "tickDash": {"condition": {"test": "abs(datum.value-round(datum.value))>0.01", "value": [0, 3.5, 3.5, 10]}, "value": [1, 0]}}, "title": null}}}]},
{"width": 210, "height": 136, "data": {"name": "p11"}, "resolve": {"axis": {"x": "independent", "y": "independent"}}, "layer": [
 {"data": {"values": [{"t": "Preliminary"}]}, "mark": {"type": "text", "angle": -37, "fontSize": 27, "fontWeight": "bold", "color": "#e4e4e4", "align": "center", "baseline": "middle"}, "encoding": {"x": {"datum": 1.91, "axis": null}, "y": {"datum": -0.2, "axis": null}, "text": {"field": "t"}}},
 {"data": {"values": [{"v": 1}, {"v": -1}]}, "mark": {"type": "rule", "color": "#e8463c", "strokeDash": [8, 6], "strokeWidth": 1.2}, "encoding": {"y": {"field": "v", "type": "quantitative", "axis": null}}},
 {"data": {"values": [{"v": 0}]}, "mark": {"type": "rule", "color": "#1b1b78", "strokeWidth": 2}, "encoding": {"y": {"field": "v", "type": "quantitative", "axis": null}}},
 {"data": {"values": [{"pre": "0.5<cosθ", "sup": "CM", "sub": "K⁰", "post": "<0.6"}]}, "encoding": {"x": {"datum": 1.963, "axis": null}, "y": {"datum": 1.27, "axis": null}}, "layer": [
  {"mark": {"type": "text", "align": "right", "fontSize": 18}, "encoding": {"text": {"field": "pre"}}},
  {"mark": {"type": "text", "align": "left", "fontSize": 12.5, "dy": -11}, "encoding": {"text": {"field": "sup"}}},
  {"mark": {"type": "text", "align": "left", "fontSize": 11.5, "dy": 7.5}, "encoding": {"text": {"field": "sub"}}},
  {"mark": {"type": "text", "align": "left", "fontSize": 18, "dx": 21}, "encoding": {"text": {"field": "post"}}}]},
 {"mark": {"type": "errorbar", "ticks": true, "size": 6, "thickness": 1.3, "color": "#000"}, "encoding": {"x": {"field": "W", "type": "quantitative", "axis": null}, "y": {"field": "C", "type": "quantitative", "axis": null}, "yError": {"field": "e"}}},
 {"mark": {"type": "circle", "size": 58, "color": "#000", "opacity": 1}, "encoding": {"x": {"field": "W", "type": "quantitative", "scale": {"domain": [1.474, 2.435], "nice": false, "zero": false}, "axis": {"orient": "bottom", "tickDash": {"condition": {"test": "abs(datum.value*5-round(datum.value*5))>0.01", "value": [0, 3.5, 3.5, 10]}, "value": [1, 0]}}, "title": null}, "y": {"field": "C", "type": "quantitative", "scale": {"domain": [-1.93, 1.93], "nice": false, "zero": false}, "axis": {"orient": "left", "tickDash": {"condition": {"test": "abs(datum.value-round(datum.value))>0.01", "value": [0, 3.5, 3.5, 10]}, "value": [1, 0]}}, "title": null}}},
 {"mark": {"type": "point", "opacity": 0}, "encoding": {"x": {"field": "W", "type": "quantitative", "axis": {"orient": "top", "tickDash": {"condition": {"test": "abs(datum.value*5-round(datum.value*5))>0.01", "value": [0, 3.5, 3.5, 10]}, "value": [1, 0]}}, "title": null}, "y": {"field": "C", "type": "quantitative", "axis": {"orient": "right", "tickDash": {"condition": {"test": "abs(datum.value-round(datum.value))>0.01", "value": [0, 3.5, 3.5, 10]}, "value": [1, 0]}}, "title": null}}}]},
{"width": 202, "height": 136, "data": {"name": "p12"}, "resolve": {"axis": {"x": "independent", "y": "independent"}}, "layer": [
 {"data": {"values": [{"t": "Preliminary"}]}, "mark": {"type": "text", "angle": -37, "fontSize": 27, "fontWeight": "bold", "color": "#e4e4e4", "align": "center", "baseline": "middle"}, "encoding": {"x": {"datum": 1.91, "axis": null}, "y": {"datum": -0.2, "axis": null}, "text": {"field": "t"}}},
 {"data": {"values": [{"v": 1}, {"v": -1}]}, "mark": {"type": "rule", "color": "#e8463c", "strokeDash": [8, 6], "strokeWidth": 1.2}, "encoding": {"y": {"field": "v", "type": "quantitative", "axis": null}}},
 {"data": {"values": [{"v": 0}]}, "mark": {"type": "rule", "color": "#1b1b78", "strokeWidth": 2}, "encoding": {"y": {"field": "v", "type": "quantitative", "axis": null}}},
 {"data": {"values": [{"pre": "0.6<cosθ", "sup": "CM", "sub": "K⁰", "post": "<0.7"}]}, "encoding": {"x": {"datum": 1.963, "axis": null}, "y": {"datum": 1.27, "axis": null}}, "layer": [
  {"mark": {"type": "text", "align": "right", "fontSize": 18}, "encoding": {"text": {"field": "pre"}}},
  {"mark": {"type": "text", "align": "left", "fontSize": 12.5, "dy": -11}, "encoding": {"text": {"field": "sup"}}},
  {"mark": {"type": "text", "align": "left", "fontSize": 11.5, "dy": 7.5}, "encoding": {"text": {"field": "sub"}}},
  {"mark": {"type": "text", "align": "left", "fontSize": 18, "dx": 21}, "encoding": {"text": {"field": "post"}}}]},
 {"mark": {"type": "errorbar", "ticks": true, "size": 6, "thickness": 1.3, "color": "#000"}, "encoding": {"x": {"field": "W", "type": "quantitative", "axis": null}, "y": {"field": "C", "type": "quantitative", "axis": null}, "yError": {"field": "e"}}},
 {"mark": {"type": "circle", "size": 58, "color": "#000", "opacity": 1}, "encoding": {"x": {"field": "W", "type": "quantitative", "scale": {"domain": [1.474, 2.399], "nice": false, "zero": false}, "axis": {"orient": "bottom", "tickDash": {"condition": {"test": "abs(datum.value*5-round(datum.value*5))>0.01", "value": [0, 3.5, 3.5, 10]}, "value": [1, 0]}}, "title": null}, "y": {"field": "C", "type": "quantitative", "scale": {"domain": [-1.93, 1.93], "nice": false, "zero": false}, "axis": {"orient": "left", "tickDash": {"condition": {"test": "abs(datum.value-round(datum.value))>0.01", "value": [0, 3.5, 3.5, 10]}, "value": [1, 0]}}, "title": null}}},
 {"mark": {"type": "point", "opacity": 0}, "encoding": {"x": {"field": "W", "type": "quantitative", "axis": {"orient": "top", "tickDash": {"condition": {"test": "abs(datum.value*5-round(datum.value*5))>0.01", "value": [0, 3.5, 3.5, 10]}, "value": [1, 0]}}, "title": null}, "y": {"field": "C", "type": "quantitative", "axis": {"orient": "right", "tickDash": {"condition": {"test": "abs(datum.value-round(datum.value))>0.01", "value": [0, 3.5, 3.5, 10]}, "value": [1, 0]}}, "title": null}}}]},
{"width": 208, "height": 135, "data": {"name": "p13"}, "resolve": {"axis": {"x": "independent", "y": "independent"}}, "layer": [
 {"data": {"values": [{"t": "Preliminary"}]}, "mark": {"type": "text", "angle": -37, "fontSize": 27, "fontWeight": "bold", "color": "#e4e4e4", "align": "center", "baseline": "middle"}, "encoding": {"x": {"datum": 1.94, "axis": null}, "y": {"datum": -0.45, "axis": null}, "text": {"field": "t"}}},
 {"data": {"values": [{"v": 1}, {"v": -1}]}, "mark": {"type": "rule", "color": "#e8463c", "strokeDash": [8, 6], "strokeWidth": 1.2}, "encoding": {"y": {"field": "v", "type": "quantitative", "axis": null}}},
 {"data": {"values": [{"v": 0}]}, "mark": {"type": "rule", "color": "#1b1b78", "strokeWidth": 2}, "encoding": {"y": {"field": "v", "type": "quantitative", "axis": null}}},
 {"data": {"values": [{"pre": "0.7<cosθ", "sup": "CM", "sub": "K⁰", "post": "<0.8"}]}, "encoding": {"x": {"datum": 1.866, "axis": null}, "y": {"datum": 1.25, "axis": null}}, "layer": [
  {"mark": {"type": "text", "align": "right", "fontSize": 18}, "encoding": {"text": {"field": "pre"}}},
  {"mark": {"type": "text", "align": "left", "fontSize": 12.5, "dy": -11}, "encoding": {"text": {"field": "sup"}}},
  {"mark": {"type": "text", "align": "left", "fontSize": 11.5, "dy": 7.5}, "encoding": {"text": {"field": "sub"}}},
  {"mark": {"type": "text", "align": "left", "fontSize": 18, "dx": 21}, "encoding": {"text": {"field": "post"}}}]},
 {"mark": {"type": "errorbar", "ticks": true, "size": 6, "thickness": 1.3, "color": "#000"}, "encoding": {"x": {"field": "W", "type": "quantitative", "axis": null}, "y": {"field": "C", "type": "quantitative", "axis": null}, "yError": {"field": "e"}}},
 {"mark": {"type": "circle", "size": 58, "color": "#000", "opacity": 1}, "encoding": {"x": {"field": "W", "type": "quantitative", "scale": {"domain": [1.474, 2.426], "nice": false, "zero": false}, "axis": {"orient": "bottom", "tickDash": {"condition": {"test": "abs(datum.value*5-round(datum.value*5))>0.01", "value": [0, 3.5, 3.5, 10]}, "value": [1, 0]}, "labels": true, "labelFontSize": 16, "labelPadding": 8, "labelExpr": "abs(datum.value*5-round(datum.value*5))<0.01 ? format(datum.value,'.1f') : ''", "titleFontSize": 22, "titlePadding": 2}, "title": "W (GeV)"}, "y": {"field": "C", "type": "quantitative", "scale": {"domain": [-1.93, 1.93], "nice": false, "zero": false}, "axis": {"orient": "left", "tickDash": {"condition": {"test": "abs(datum.value-round(datum.value))>0.01", "value": [0, 3.5, 3.5, 10]}, "value": [1, 0]}, "labels": true, "labelFont": "Liberation Serif", "labelFontSize": 18, "labelPadding": 4, "labelExpr": "abs(datum.value-round(datum.value))<0.01 ? ''+round(datum.value) : ''", "titleAngle": 0, "titleAlign": "right", "titleBaseline": "middle", "titleFontSize": 22, "titlePadding": 0}, "title": "Cₓ"}}},
 {"mark": {"type": "point", "opacity": 0}, "encoding": {"x": {"field": "W", "type": "quantitative", "axis": {"orient": "top", "tickDash": {"condition": {"test": "abs(datum.value*5-round(datum.value*5))>0.01", "value": [0, 3.5, 3.5, 10]}, "value": [1, 0]}}, "title": null}, "y": {"field": "C", "type": "quantitative", "axis": {"orient": "right", "tickDash": {"condition": {"test": "abs(datum.value-round(datum.value))>0.01", "value": [0, 3.5, 3.5, 10]}, "value": [1, 0]}}, "title": null}}}]},
{"width": 211, "height": 135, "data": {"name": "p14"}, "resolve": {"axis": {"x": "independent", "y": "independent"}}, "layer": [
 {"data": {"values": [{"t": "Preliminary"}]}, "mark": {"type": "text", "angle": -37, "fontSize": 27, "fontWeight": "bold", "color": "#e4e4e4", "align": "center", "baseline": "middle"}, "encoding": {"x": {"datum": 1.94, "axis": null}, "y": {"datum": -0.45, "axis": null}, "text": {"field": "t"}}},
 {"data": {"values": [{"v": 1}, {"v": -1}]}, "mark": {"type": "rule", "color": "#e8463c", "strokeDash": [8, 6], "strokeWidth": 1.2}, "encoding": {"y": {"field": "v", "type": "quantitative", "axis": null}}},
 {"data": {"values": [{"v": 0}]}, "mark": {"type": "rule", "color": "#1b1b78", "strokeWidth": 2}, "encoding": {"y": {"field": "v", "type": "quantitative", "axis": null}}},
 {"data": {"values": [{"pre": "cosθ", "sup": "CM", "sub": "K⁰", "post": ">0.8"}]}, "encoding": {"x": {"datum": 1.868, "axis": null}, "y": {"datum": 1.2, "axis": null}}, "layer": [
  {"mark": {"type": "text", "align": "right", "fontSize": 18}, "encoding": {"text": {"field": "pre"}}},
  {"mark": {"type": "text", "align": "left", "fontSize": 12.5, "dy": -11}, "encoding": {"text": {"field": "sup"}}},
  {"mark": {"type": "text", "align": "left", "fontSize": 11.5, "dy": 7.5}, "encoding": {"text": {"field": "sub"}}},
  {"mark": {"type": "text", "align": "left", "fontSize": 18, "dx": 21}, "encoding": {"text": {"field": "post"}}}]},
 {"mark": {"type": "errorbar", "ticks": true, "size": 6, "thickness": 1.3, "color": "#000"}, "encoding": {"x": {"field": "W", "type": "quantitative", "axis": null}, "y": {"field": "C", "type": "quantitative", "axis": null}, "yError": {"field": "e"}}},
 {"mark": {"type": "circle", "size": 58, "color": "#000", "opacity": 1}, "encoding": {"x": {"field": "W", "type": "quantitative", "scale": {"domain": [1.474, 2.44], "nice": false, "zero": false}, "axis": {"orient": "bottom", "tickDash": {"condition": {"test": "abs(datum.value*5-round(datum.value*5))>0.01", "value": [0, 3.5, 3.5, 10]}, "value": [1, 0]}}, "title": null}, "y": {"field": "C", "type": "quantitative", "scale": {"domain": [-1.93, 1.93], "nice": false, "zero": false}, "axis": {"orient": "left", "tickDash": {"condition": {"test": "abs(datum.value-round(datum.value))>0.01", "value": [0, 3.5, 3.5, 10]}, "value": [1, 0]}}, "title": null}}},
 {"mark": {"type": "point", "opacity": 0}, "encoding": {"x": {"field": "W", "type": "quantitative", "axis": {"orient": "top", "tickDash": {"condition": {"test": "abs(datum.value*5-round(datum.value*5))>0.01", "value": [0, 3.5, 3.5, 10]}, "value": [1, 0]}}, "title": null}, "y": {"field": "C", "type": "quantitative", "axis": {"orient": "right", "tickDash": {"condition": {"test": "abs(datum.value-round(datum.value))>0.01", "value": [0, 3.5, 3.5, 10]}, "value": [1, 0]}}, "title": null}}}]}
]
}
